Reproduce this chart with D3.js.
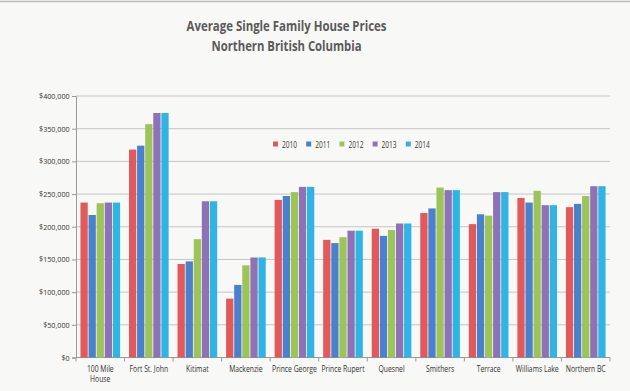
<!DOCTYPE html>
<html><head><meta charset="utf-8">
<script src="https://cdn.jsdelivr.net/npm/d3@7"></script>
<style>
html,body{margin:0;padding:0;background:#f8f8f6;}
svg{display:block;}
text{font-family:"Open Sans",sans-serif;}
</style></head><body>
<script>
const categories = ["100 Mile House","Fort St. John","Kitimat","Mackenzie","Prince George","Prince Rupert","Quesnel","Smithers","Terrace","Williams Lake","Northern BC"];
const categoryLines = [["100 Mile","House"],["Fort St. John"],["Kitimat"],["Mackenzie"],["Prince George"],["Prince Rupert"],["Quesnel"],["Smithers"],["Terrace"],["Williams Lake"],["Northern BC"]];
const years = ["2010","2011","2012","2013","2014"];
const v2010 = [237000,318000,143000,90000,241000,180000,197000,221000,204000,244000,230000];
const v2011 = [218000,324000,147000,111000,247000,175000,186000,228000,219000,237000,235000];
const v2012 = [236000,357000,181000,141000,253000,184000,195000,260000,217000,255000,247000];
const v2013 = [237000,374000,239000,153000,261000,194000,205000,256000,253000,233000,262000];
const v2014 = [237000,374000,239000,153000,261000,194000,205000,256000,253000,233000,262000];
const yTicks = [0,50000,100000,150000,200000,250000,300000,350000,400000];
const colors = ["#e05a5c","#4a80cc","#9cc45a","#8d73b6","#30b4e4"];
const series = [v2010,v2011,v2012,v2013,v2014];

const W=630,H=391;
const svg=d3.select("body").append("svg").attr("width",W).attr("height",H);
svg.append("rect").attr("width",W).attr("height",H).attr("fill","#f8f8f6");
svg.append("line").attr("x1",0).attr("x2",W).attr("y1",1.5).attr("y2",1.5).attr("stroke","#bbb").attr("stroke-width",1.5);

const L=76,R=610,T=96,B=357.5;
const x=d3.scaleBand().domain(categories).range([L,R]).paddingInner(0).paddingOuter(0);
const xi=d3.scaleBand().domain(years).range([0,x.bandwidth()]).paddingInner(0.1).paddingOuter(0.55);
const y=d3.scaleLinear().domain([0,400000]).range([B,T]);

// title
const title=svg.append("g").attr("fill","#5a5a5a").attr("font-weight","bold").attr("font-size",15).attr("text-anchor","middle");
title.append("text").attr("x",286.5).attr("y",31).attr("textLength",200).attr("lengthAdjust","spacingAndGlyphs").text("Average Single Family House Prices");
title.append("text").attr("x",286.5).attr("y",50.5).attr("textLength",150).attr("lengthAdjust","spacingAndGlyphs").text("Northern British Columbia");

// grid
svg.append("g").selectAll("line").data(yTicks.filter(d=>d>0)).join("line")
  .attr("x1",L).attr("x2",R).attr("y1",d=>y(d)).attr("y2",d=>y(d))
  .attr("stroke","#c4c4c4").attr("stroke-width",1);

// y axis
const ya=svg.append("g").attr("transform",`translate(${L},0)`)
  .call(d3.axisLeft(y).tickValues(yTicks).tickSize(4).tickPadding(3).tickFormat(d=>"$"+d3.format(",")(d)));
ya.select(".domain").attr("stroke","#999");
ya.selectAll(".tick line").attr("stroke","#999");
ya.selectAll("text").attr("font-size",8).attr("fill","#333").attr("font-family","'Open Sans',sans-serif")
  .attr("transform","scale(0.9,1)");

// x axis
const xa=svg.append("g").attr("transform",`translate(0,${B})`);
xa.append("line").attr("x1",L).attr("x2",R).attr("stroke","#999");
xa.selectAll(".tk").data(categories.concat(["_end"])).join("line")
  .attr("x1",(d,i)=>L+i*x.bandwidth()).attr("x2",(d,i)=>L+i*x.bandwidth())
  .attr("y1",0).attr("y2",4).attr("stroke","#999");
const lab=xa.selectAll(".lab").data(categories).join("text")
  .attr("text-anchor","middle").attr("font-size",8.5).attr("fill","#333")
  .attr("transform",d=>`translate(${x(d)+x.bandwidth()/2},14) scale(0.8,1)`);
lab.each(function(d,i){
  const t=d3.select(this);
  categoryLines[i].forEach((ln,j)=>t.append("tspan").attr("x",0).attr("y",j*11).text(ln));
});

// bars
const g=svg.append("g");
series.forEach((vals,si)=>{
  g.append("g").selectAll("rect").data(vals).join("rect")
   .attr("x",(d,i)=>x(categories[i])+xi(years[si]))
   .attr("width",xi.bandwidth())
   .attr("y",d=>y(d)).attr("height",d=>B-y(d))
   .attr("fill",colors[si]);
});

// legend
const lg=svg.append("g");
years.forEach((yr,i)=>{
  const lx=273+i*33.2;
  lg.append("rect").attr("x",lx).attr("y",141.5).attr("width",5).attr("height",5).attr("fill",colors[i]);
  lg.append("text").attr("x",lx+9).attr("y",147.5).attr("font-size",8.5).attr("fill","#333")
    .attr("textLength",15).attr("lengthAdjust","spacingAndGlyphs").text(yr);
});
</script>
</body></html>
